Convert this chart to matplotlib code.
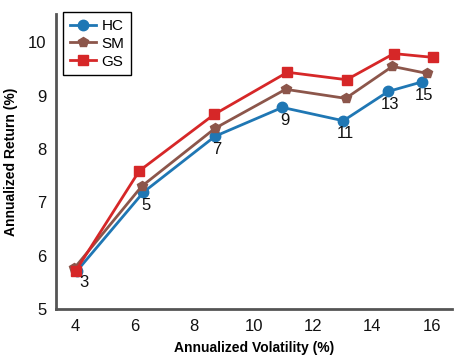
import matplotlib
matplotlib.use("Agg")
import matplotlib.pyplot as plt

# Values
hc_vol = [4.06, 6.30, 8.71, 10.97, 13.02, 14.53, 15.67]
hc_ret = [5.71, 7.19, 8.24, 8.78, 8.53, 9.08, 9.26]
sm_vol = [3.97, 6.24, 8.71, 11.08, 13.10, 14.67, 15.82]
sm_ret = [5.76, 7.30, 8.39, 9.12, 8.95, 9.55, 9.42]
gs_vol = [4.03, 6.16, 8.68, 11.14, 13.13, 14.72, 16.02]
gs_ret = [5.72, 7.59, 8.65, 9.44, 9.30, 9.79, 9.72]
point_labels = ['3', '5', '7', '9', '11', '13', '15']

xticks = [4, 6, 8, 10, 12, 14, 16]
yticks = [5, 6, 7, 8, 9, 10]

plt.rcParams['font.family'] = ['Liberation Sans', 'DejaVu Sans']

fig = plt.figure(figsize=(4.63, 3.63), dpi=100)
ax = fig.add_axes([0.121, 0.149, 0.855, 0.812])

ax.plot(hc_vol, hc_ret, color='#1f77b4', marker='o', markersize=7.5, lw=2, label='HC', zorder=3)
ax.plot(sm_vol, sm_ret, color='#8c564b', marker='p', markersize=7.5, lw=2, label='SM', zorder=3)
ax.plot(gs_vol, gs_ret, color='#d62728', marker='s', markersize=7.5, lw=2, label='GS', zorder=3)

# numbers under the HC points
for i, txt in enumerate(point_labels):
    off = (5, -8) if i == 0 else (1.5, -9.5)
    ax.annotate(txt, (hc_vol[i], hc_ret[i]), xytext=off, textcoords='offset points',
                ha='center', va='center', fontsize=12, color='#111111')

ax.set_xlim(3.36, 16.67)
ax.set_ylim(5, 10.53)
ax.set_xticks(xticks)
ax.set_yticks(yticks)
ax.tick_params(length=0, labelsize=12, pad=7, colors='#111111')

for s in ['top', 'right']:
    ax.spines[s].set_visible(False)
for s in ['left', 'bottom']:
    ax.spines[s].set_linewidth(2)
    ax.spines[s].set_color('#555555')

ax.set_xlabel('Annualized Volatility (%)', fontsize=10, fontweight='semibold', labelpad=5)
ax.set_ylabel('Annualized Return (%)', fontsize=10, fontweight='semibold', labelpad=7)

leg = ax.legend(loc='upper left', bbox_to_anchor=(0.018, 1.007), borderaxespad=0,
                fontsize=11, fancybox=False, edgecolor='black', framealpha=1,
                handlelength=1.7, borderpad=0.45, labelspacing=0.25, handletextpad=0.35)
leg.get_frame().set_linewidth(1)

fig.savefig('out.png', dpi=100)
